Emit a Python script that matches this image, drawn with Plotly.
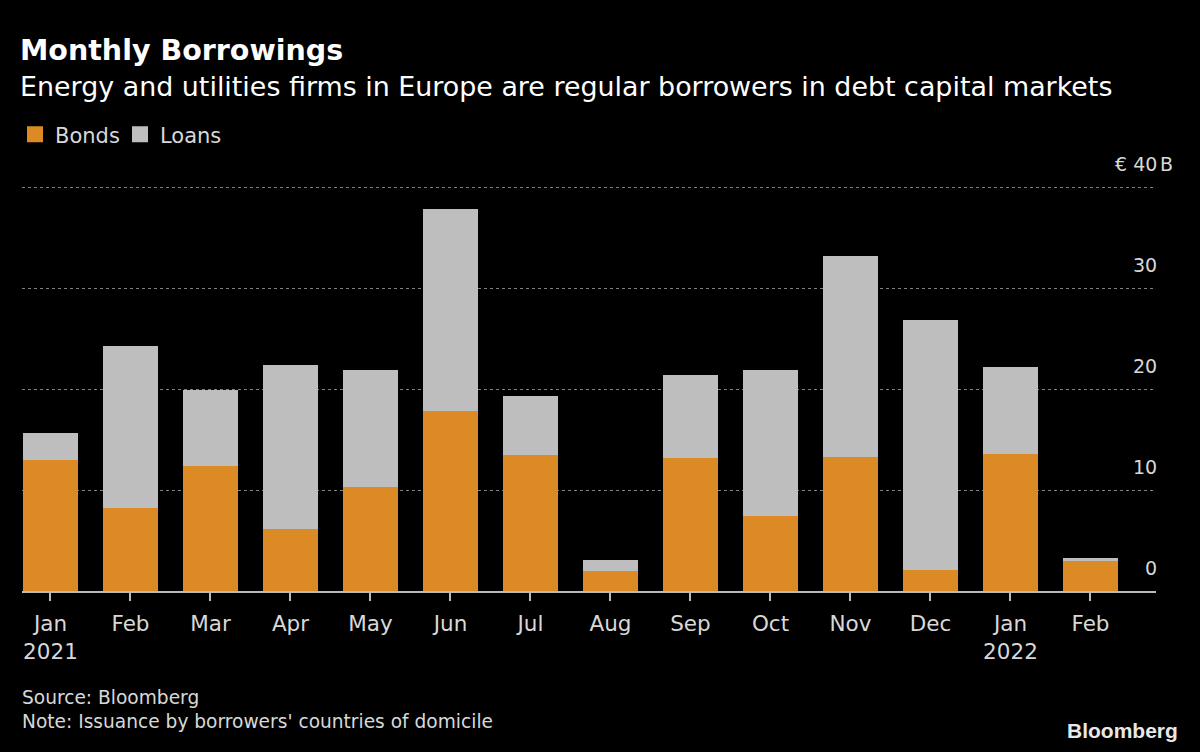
import plotly.graph_objects as go

months = ["Jan 2021", "Feb 2021", "Mar 2021", "Apr 2021", "May 2021", "Jun 2021", "Jul 2021",
          "Aug 2021", "Sep 2021", "Oct 2021", "Nov 2021", "Dec 2021", "Jan 2022", "Feb 2022"]
tick_labels = ["Jan<br>2021", "Feb", "Mar", "Apr", "May", "Jun", "Jul", "Aug", "Sep", "Oct",
               "Nov", "Dec", "Jan<br>2022", "Feb"]
bonds = [13.0, 8.2, 12.4, 6.1, 10.3, 17.8, 13.5, 2.0, 13.2, 7.4, 13.3, 2.1, 13.6, 3.0]
loans = [2.6, 16.1, 7.5, 16.3, 11.6, 20.0, 5.8, 1.1, 8.2, 14.5, 19.9, 24.7, 8.6, 0.3]
y_ticks = [0, 10, 20, 30, 40]

ORANGE = "#DC8A26"
GRAY = "#BEBEBE"
FONT = "DejaVu Sans"
TXT = "#d8d8d8"

# plot area geometry (pixels)
L, R_EDGE, Y0_PX = 22, 1156, 590.7
PX_PER_UNIT = 10.085
Y_MAX = 40.3
PLOT_H = Y_MAX * PX_PER_UNIT
TOP = Y0_PX - PLOT_H
BOT = 752 - Y0_PX
PLOT_W = R_EDGE - L


def px(x, y):
    return (x - L) / PLOT_W, (Y0_PX - y) / PLOT_H


fig = go.Figure()
fig.add_trace(go.Bar(x=months, y=bonds, name="Bonds", showlegend=False,
                     marker=dict(color=ORANGE, line_width=0)))
fig.add_trace(go.Bar(x=months, y=loans, name="Loans", showlegend=False,
                     marker=dict(color=GRAY, line_width=0)))
# legend entries with larger square swatches
for name, col in [("Bonds", ORANGE), ("Loans", GRAY)]:
    fig.add_trace(go.Scatter(x=[None], y=[None], mode="markers", name=name,
                             marker=dict(symbol="square", size=16, color=col)))

texts = [
    ("<b>Monthly Borrowings</b>", 18, 51, 28.5, "white"),
    ("Energy and utilities firms in Europe are regular borrowers in debt capital markets",
     18, 87, 26.9, "white"),
    ("Source: Bloomberg", 20, 697, 18.6, TXT),
    ("Note: Issuance by borrowers' countries of domicile", 20, 721, 18.6, TXT),
]
ann = []
for t, x, y, s, c in texts:
    xp, yp = px(x, y)
    ann.append(dict(text=t, xref="paper", yref="paper", x=xp, y=yp, xanchor="left",
                    yanchor="middle", showarrow=False, font=dict(family=FONT, size=s, color=c)))
xp, yp = px(1180, 730)
ann.append(dict(text="<b>Bloomberg</b>", xref="paper", yref="paper", x=xp, y=yp,
                xanchor="right", yanchor="middle", showarrow=False,
                font=dict(family="Liberation Sans", size=21, color="#e8e8e8")))
for v in y_ticks:
    txt = "€ " + str(v) if v == y_ticks[-1] else str(v)
    ann.append(dict(text=txt, xref="paper", yref="y", x=1.0, y=v, xanchor="right",
                    yanchor="bottom", yshift=10, xshift=3, showarrow=False,
                    font=dict(family=FONT, size=19, color=TXT)))
    if v == y_ticks[-1]:
        ann.append(dict(text="B", xref="paper", yref="y", x=1.0, y=v, xanchor="left",
                        yanchor="bottom", yshift=10, xshift=2, showarrow=False,
                        font=dict(family=FONT, size=19, color=TXT)))

lx, ly = px(15, 135)
fig.update_layout(
    width=1200, height=752,
    barmode="stack", bargap=0.305,
    paper_bgcolor="black", plot_bgcolor="black",
    margin=dict(l=L, r=1200 - R_EDGE, t=TOP, b=BOT, pad=0),
    font=dict(family=FONT, color=TXT, size=20),
    showlegend=True,
    legend=dict(orientation="h", x=lx, y=ly, xanchor="left", yanchor="middle",
                bgcolor="rgba(0,0,0,0)", font=dict(size=21, color=TXT), traceorder="normal",
                itemwidth=30, itemsizing="trace", entrywidth=60),
    annotations=ann,
    xaxis=dict(type="category", range=[-0.356, 13.819], tickmode="array", tickvals=months,
               ticktext=tick_labels, ticks="outside", ticklen=8, tickwidth=1.5,
               tickcolor="#bbbbbb", showline=True, linecolor="#bbbbbb", linewidth=2,
               showgrid=False, tickfont=dict(size=21.5, color=TXT), zeroline=False,
               ticklabelstandoff=4),
    yaxis=dict(range=[0, Y_MAX], tickvals=y_ticks, showticklabels=False, showgrid=True,
               gridcolor="#808080", griddash="dot", gridwidth=1, zeroline=False, showline=False),
)

fig.write_html("out.html", config={"displayModeBar": False},
               post_script="document.body.style.margin='0';document.body.style.background='black';")
